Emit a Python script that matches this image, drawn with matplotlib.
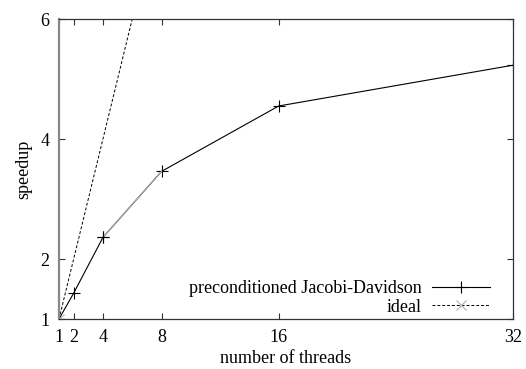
import numpy as np
import matplotlib.pyplot as plt

# data
threads = [1, 2, 4, 8, 16, 32]
speedup = [1.0, 1.43, 2.36, 3.46, 4.55, 5.23]
ideal_x = [1, 6, 32]
ideal_y = [1, 6, 32]

xticks = [1, 2, 4, 8, 16, 32]
yticks = [1, 2, 4, 6]

plt.rcParams['font.family'] = ['Liberation Serif', 'DejaVu Serif']

fig = plt.figure(figsize=(5.26, 3.69), dpi=100)
ax = fig.add_axes([59/526, 1-319/369, (513-59)/526, (319-19)/369])

ax.plot(threads, speedup, color='black', lw=0.8, marker='+', ms=8, mew=0.8,
        label='preconditioned Jacobi-Davidson')
# segment 4 -> 8 looks lighter in the reference
ax.plot(threads[2:4], speedup[2:4], color='#b0b0b0', lw=0.8)
ax.plot(threads[2:3], speedup[2:3], color='black', marker='+', ms=8, mew=0.8, ls='none')
ax.plot(ideal_x, ideal_y, color='black', lw=0.7, ls=(0, (3, 2)), marker='x',
        ms=7, mew=0.8, mec='#b0b0b0', markevery=[0], label='ideal')

ax.set_xlim(1, 32)
ax.set_ylim(1, 6)
ax.set_xticks(xticks)
ax.set_xticklabels([str(t) for t in xticks])
ax.set_yticks(yticks)
ax.tick_params(direction='in', top=True, right=True, length=4, width=0.8,
               labelsize=13, pad=7, color='#333333')
for s in ax.spines.values():
    s.set_color('#333333')
    s.set_linewidth(0.9)
ax.spines['left'].set_color('#888888')
ax.spines['left'].set_linewidth(1.6)

ax.set_xlabel('number of threads', fontsize=13, labelpad=3)
ax.set_ylabel('speedup', fontsize=13, labelpad=6)

leg = ax.legend(loc='lower right', bbox_to_anchor=(0.965, -0.013), frameon=False,
                markerfirst=False, fontsize=13, handlelength=3.2, borderaxespad=0,
                labelspacing=0.1, handletextpad=0.6)

fig.savefig('out.png', dpi=100)
